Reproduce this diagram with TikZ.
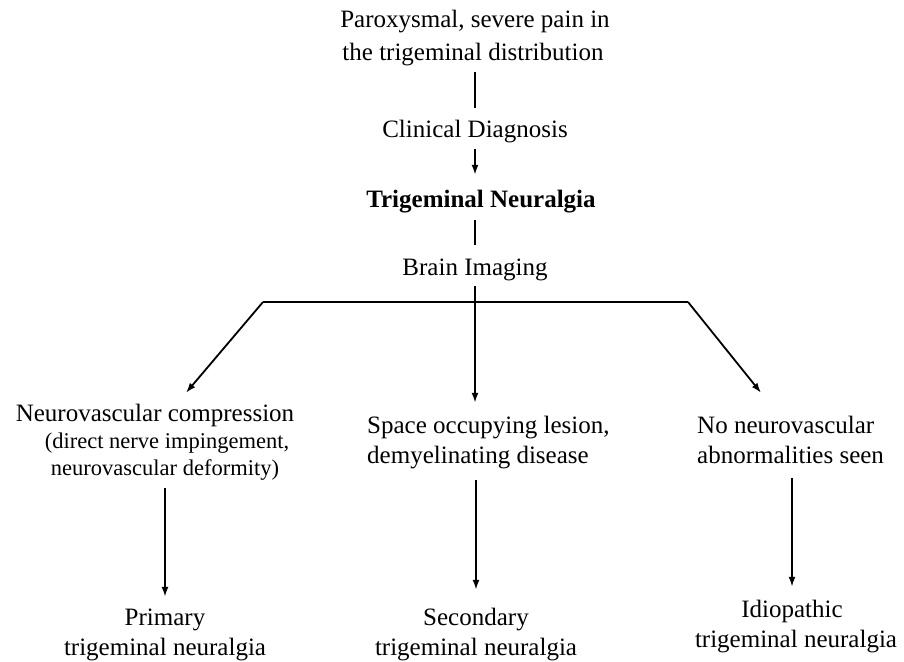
\documentclass[tikz,border=0pt]{standalone}
\usepackage{fontspec}
\setmainfont{Liberation Serif}
\usetikzlibrary{arrows.meta}
\begin{document}
\begin{tikzpicture}[x=1pt,y=-1pt,
  txt/.style={inner sep=0pt, font=\fontsize{25}{32}\selectfont, text height=17pt, text depth=6pt, anchor=base},
  sm/.style={inner sep=0pt, font=\fontsize{22.5}{27}\selectfont, text height=15.5pt, text depth=5.5pt, anchor=base},
  bold/.style={font=\bfseries\fontsize{25}{32}\selectfont},
  con/.style={line width=1.8pt},
  arr/.style={line width=1.8pt, -{Latex[length=10pt,width=7pt]}}]
\useasboundingbox (0,0) rectangle (904,661);
% top chain
\node[txt] (t1) at (475,28) {Paroxysmal, severe pain in};
\node[txt] (t2) at (473,60) {the trigeminal distribution};
\node[txt] (cd) at (475,137) {Clinical Diagnosis};
\node[txt,bold] (tn) at (481,207) {Trigeminal Neuralgia};
\node[txt] (bi) at (475,275) {Brain Imaging};
% branches
\node[txt] (l1) at (155,421) {Neurovascular compression};
\node[sm] (l2) at (167,448) {(direct nerve impingement,};
\node[sm] (l3) at (165,475) {neurovascular deformity)};
\node[txt,anchor=base west] (m1) at (367,433) {Space occupying lesion,};
\node[txt,anchor=base west] (m2) at (367,463) {demyelinating disease};
\node[txt,anchor=base west] (r1) at (697,433) {No neurovascular};
\node[txt,anchor=base west] (r2) at (697,463) {abnormalities seen};
% outcomes
\node[txt] (p1) at (165,625) {Primary};
\node[txt] (p2) at (165,655) {trigeminal neuralgia};
\node[txt] (s1) at (476,625) {Secondary};
\node[txt] (s2) at (476,655) {trigeminal neuralgia};
\node[txt] (i1) at (792,617) {Idiopathic};
\node[txt] (i2) at (796,647) {trigeminal neuralgia};
% connectors
\draw[con, shorten <=6pt, shorten >=12pt] (t2.south -| cd.south) -- (cd.north);
\draw[arr, shorten <=6pt, shorten >=15pt] (cd.south) -- (cd.south |- tn.north);
\draw[con, shorten <=7pt, shorten >=13pt] (cd.south |- tn.south) -- (bi.north);
\coordinate (bl) at (263,302);
\coordinate (br) at (688,302);
\draw[con] (bl) -- (br);
\draw[arr, shorten <=5pt, shorten >=13pt] (bi.south) -- (bi.south |- m1.north);
\draw[arr] (bl) -- ([xshift=31pt,yshift=11pt]l1.north);
\draw[arr] (br) -- ([xshift=64pt,yshift=23pt]r1.north west);
\draw[arr, shorten <=7.5pt, shorten >=11pt] (p1.north |- l3.south) -- (p1.north);
\draw[arr, shorten <=11pt, shorten >=18pt] (s1.north |- m2.south) -- (s1.north);
\draw[arr, shorten <=9pt, shorten >=13pt] (i1.north |- r2.south) -- (i1.north);
\end{tikzpicture}
\end{document}
